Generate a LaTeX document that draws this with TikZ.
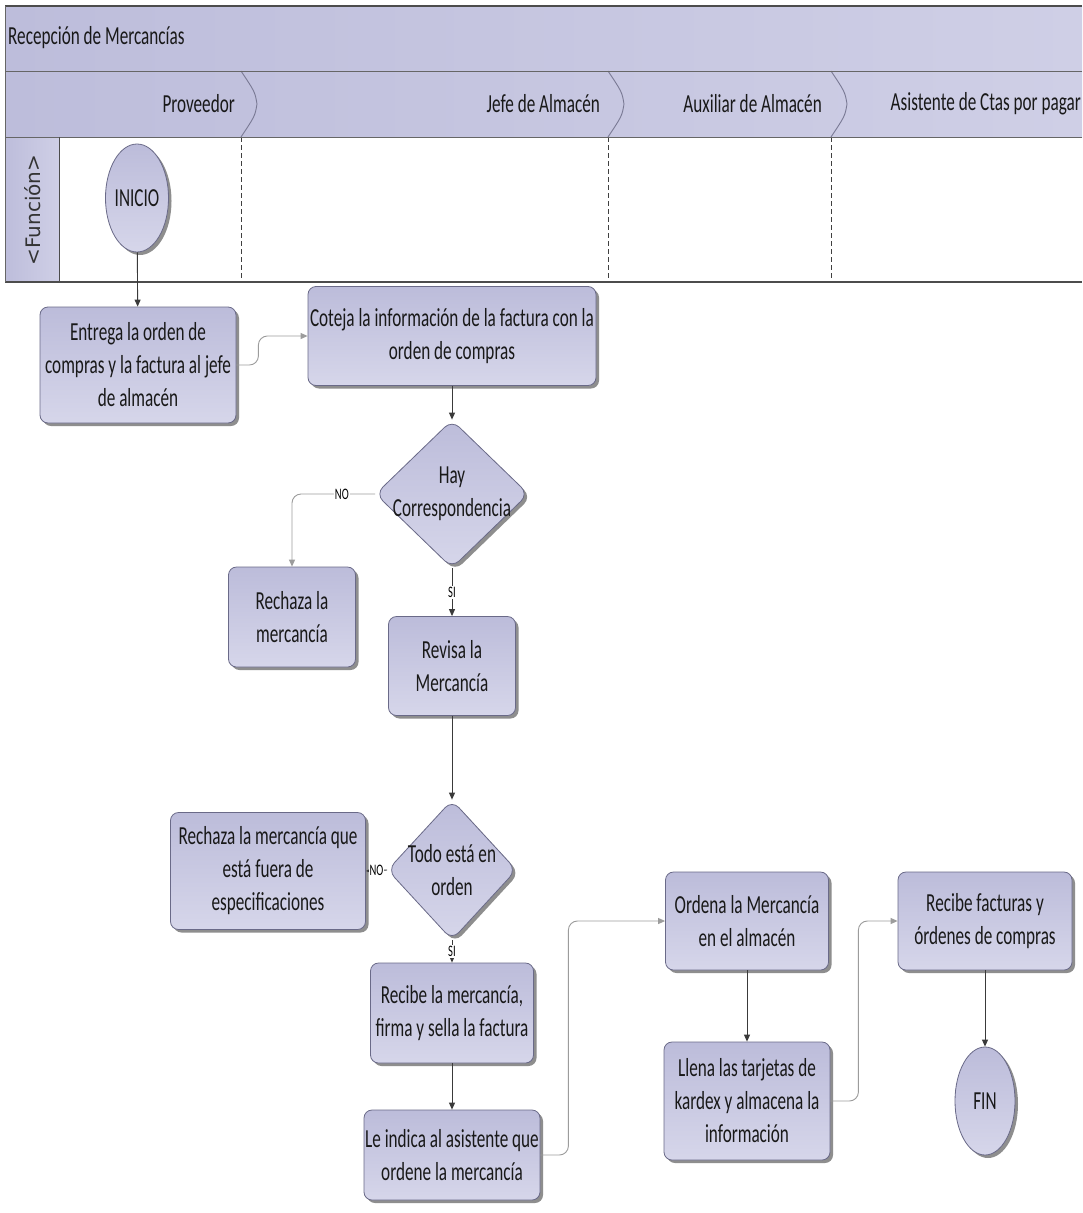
\documentclass[tikz,border=0pt]{standalone}
\usepackage{fontspec}
\setmainfont{Carlito}
\newfontfamily\narrowfont{Carlito}[FakeStretch=0.66]
\newfontfamily\lanefont{DejaVu Sans}
\usetikzlibrary{shapes.geometric,shadows,arrows.meta}

\definecolor{lavA}{HTML}{BCBCDA}
\definecolor{lavB}{HTML}{D6D6EA}
\definecolor{bandA}{HTML}{BDBDDB}
\definecolor{bandB}{HTML}{CFCFE6}
\definecolor{edgecol}{HTML}{6A6A88}
\definecolor{lineD}{HTML}{3A3A3A}
\definecolor{lineL}{HTML}{9C9C9C}
\definecolor{shadowcol}{HTML}{8E8E8E}

\begin{document}
\begin{tikzpicture}[x=1pt,y=-1pt,
  txt/.style={font=\narrowfont\fontsize{26}{33}\selectfont, text=black!90},
  shade box/.style={top color=lavA, bottom color=lavB, draw=edgecol, line width=0.8pt,
    drop shadow={shadow xshift=3pt, shadow yshift=-3pt, fill=shadowcol, opacity=1}},
  proc/.style={txt, shade box, rounded corners=8pt, align=center, inner sep=0pt},
  decision/.style={shade box, diamond, rounded corners=10pt, inner sep=0pt},
  terminal/.style={txt, shade box, ellipse, inner sep=0pt},
  flow/.style={draw=lineD, line width=0.9pt, -{Triangle[length=7pt,width=6pt]}},
  route/.style={draw=lineL, line width=0.9pt, rounded corners=9pt, -{Triangle[length=7pt,width=6pt]}},
  tag/.style={font=\narrowfont\fontsize{16}{16}\selectfont, fill=white, inner sep=1pt},
  lanehead/.style={txt, anchor=east, inner sep=0pt},
  chevron/.style={draw=edgecol!90, line width=0.9pt},
  lanesep/.style={draw=black!75, line width=0.8pt, dashed, dash pattern=on 5pt off 3pt}
]
\useasboundingbox (0,0) rectangle (1082,1213);
\fill[white] (0,0) rectangle (1082,1213);

% ---- pool title band ----
\shade[left color=bandA, right color=bandB] (5,6) rectangle (1082,71);
\node[txt, anchor=west, inner sep=0pt] (pool) at (8,38) {Recepción de Mercancías};

% ---- lane header row ----
\shade[left color=bandA, right color=bandB] (5,71) rectangle (1082,137);
\draw[chevron] (241,71) .. controls (255,92) .. (257,104) .. controls (255,116) .. (241,137);
\draw[chevron] (608,71) .. controls (622,92) .. (624,104) .. controls (622,116) .. (608,137);
\draw[chevron] (831,71) .. controls (845,92) .. (847,104) .. controls (845,116) .. (831,137);
\node[lanehead] (h1) at (235,104) {Proveedor};
\node[lanehead] (h2) at (600,104) {Jefe de Almacén};
\node[lanehead] (h3) at (822,104) {Auxiliar de Almacén};
\node[lanehead] (h4) at (1081,104) {Asistente de Ctas por pagar};

% ---- phase column and lane area ----
\shade[left color=bandA, right color=bandB] (5,137) rectangle (59,282);
\node[font=\lanefont\fontsize{20}{20}\selectfont, text=black!80, rotate=90] (fn) at (33,210) {<Función>};
\draw[lanesep] (241,137) -- (241,282);
\draw[lanesep] (608,137) -- (608,282);
\draw[lanesep] (831,137) -- (831,282);
\draw[draw=black!70, line width=1.2pt] (5,6) -- (1082,6);
\draw[draw=black!60, line width=1pt] (5,71) -- (1082,71);
\draw[draw=black!60, line width=1pt] (5,137) -- (1082,137);
\draw[draw=black!70, line width=0.8pt] (59,137) -- (59,282);
\draw[draw=black!70, line width=1.6pt] (5,282) -- (1082,282);
\draw[draw=black!60, line width=1pt] (5,6) -- (5,282);

% ---- flow nodes ----
\node[terminal, minimum width=62pt, minimum height=108pt] (inicio) at (137,198) {INICIO};
\node[proc, minimum width=196pt, minimum height=116pt] (entrega) at (138,365)
  {Entrega la orden de\\compras y la factura al jefe\\de almacén};
\node[proc, minimum width=288pt, minimum height=99pt] (coteja) at (452,336)
  {Coteja la información de la factura con la\\orden de compras};
\node[decision, minimum width=153pt, minimum height=148pt,
  label={[txt, align=center]center:Hay\\Correspondencia}] (hay) at (452,494) {};
\node[proc, minimum width=127pt, minimum height=100pt] (rechaza) at (292,617)
  {Rechaza la\\mercancía};
\node[proc, minimum width=127pt, minimum height=99pt] (revisa) at (452,666)
  {Revisa la\\Mercancía};
\node[decision, minimum width=129pt, minimum height=140pt,
  label={[txt, align=center]center:Todo está en\\orden}] (todo) at (452,870) {};
\node[proc, minimum width=195pt, minimum height=117pt] (rechazafuera) at (268,871)
  {Rechaza la mercancía que\\está fuera de\\especificaciones};
\node[proc, minimum width=163pt, minimum height=100pt] (recibe) at (452,1013)
  {Recibe la mercancía,\\firma y sella la factura};
\node[proc, minimum width=176pt, minimum height=90pt] (indica) at (452,1155)
  {Le indica al asistente que\\ordene la mercancía};
\node[proc, minimum width=163pt, minimum height=98pt] (ordena) at (747,921)
  {Ordena la Mercancía\\en el almacén};
\node[proc, minimum width=166pt, minimum height=118pt] (llena) at (747,1101)
  {Llena las tarjetas de\\kardex y almacena la\\información};
\node[proc, minimum width=174pt, minimum height=98pt] (facturas) at (985,921)
  {Recibe facturas y\\órdenes de compras};
\node[terminal, minimum width=60pt, minimum height=108pt] (fin) at (985,1101) {FIN};

% ---- connectors ----
\draw[flow] (inicio) -- (entrega);
\draw[route] (entrega.east) -- ++(22,0) |- (coteja.west);
\draw[flow] (coteja) -- (hay);
\draw[route] (hay.west) -| node[tag, pos=0.2] {NO} (rechaza.north);
\draw[flow] (hay.south) -- node[tag] {SI} (revisa.north);
\draw[flow] (revisa) -- (todo);
\draw[flow] (todo.west) -- node[tag] {NO} (rechazafuera.east);
\draw[flow] (todo.south) -- node[tag] {SI} (recibe.north);
\draw[flow] (recibe) -- (indica);
\draw[route] (indica.east) -- ++(28,0) |- (ordena.west);
\draw[flow] (ordena) -- (llena);
\draw[route] (llena.east) -- ++(28,0) |- (facturas.west);
\draw[flow] (facturas) -- (fin);
\end{tikzpicture}
\end{document}
